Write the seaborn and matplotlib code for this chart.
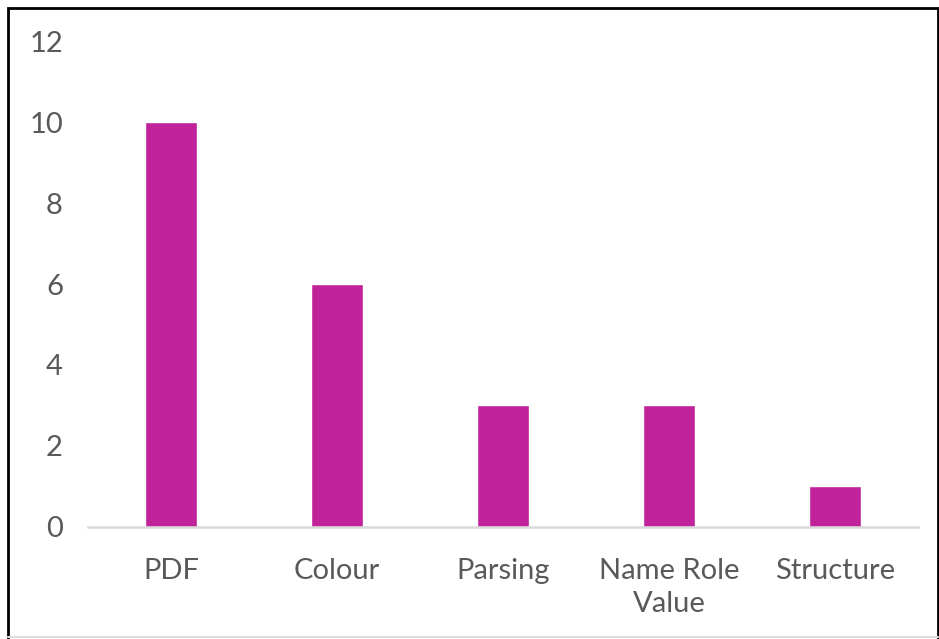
import matplotlib
matplotlib.use("Agg")
import matplotlib.pyplot as plt
import seaborn as sns
import pandas as pd
from matplotlib.patches import Rectangle

categories = ["PDF", "Colour", "Parsing", "Name Role\nValue", "Structure"]
counts = [10, 6, 3, 3, 1]
yticks = [0, 2, 4, 6, 8, 10, 12]

df = pd.DataFrame({"Issue": categories, "Count": counts})

sns.set_style("white")
plt.rcParams["font.family"] = ["Lato", "DejaVu Sans"]

fig = plt.figure(figsize=(9.39, 6.39), dpi=100)
ax = fig.add_axes([0.0937, 0.1753, 0.8839, 0.7605])

sns.barplot(data=df, x="Issue", y="Count", color="#C0229A", saturation=1,
            width=0.31, ax=ax)

ax.set_ylim(0, 12)
ax.set_yticks(yticks)
ax.set_xlim(-0.5, len(categories) - 0.5)
ax.set_xlabel("")
ax.set_ylabel("")
for s in ["top", "right", "left"]:
    ax.spines[s].set_visible(False)
ax.spines["bottom"].set_color("#D9D9D9")
ax.spines["bottom"].set_linewidth(1.8)
ax.tick_params(axis="both", length=0, labelsize=21, labelcolor="#595959")
ax.tick_params(axis="y", pad=18)
ax.tick_params(axis="x", pad=22)
for lbl in ax.get_xticklabels():
    lbl.set_linespacing(1.35)

# outer frame
fig.add_artist(Rectangle((0.009, -0.01), 0.99, 0.998, transform=fig.transFigure,
                         fill=False, edgecolor="black", linewidth=2))
fig.add_artist(plt.Line2D([0.009, 0.999], [0.003, 0.003], transform=fig.transFigure,
                          color="#DDDDDD", linewidth=1.5))

fig.savefig("out.png", dpi=100)
